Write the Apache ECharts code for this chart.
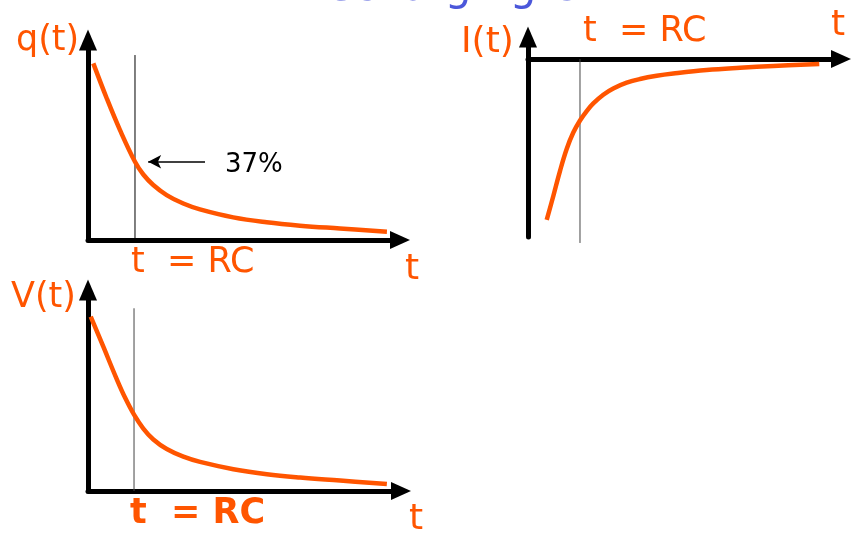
<!DOCTYPE html>
<html>
<head>
<meta charset="utf-8">
<script src="https://cdn.jsdelivr.net/npm/echarts@6/dist/echarts.min.js"></script>
<style>
  html, body { margin: 0; padding: 0; background: #fff; }
  #chart { width: 853px; height: 535px; }
</style>
</head>
<body>
<div id="chart"></div>
<script>
// time in units of RC, values as fraction of the start value
const qT = [0.113, 0.398, 0.681, 1.0, 1.177, 1.389, 1.674, 2.028, 2.383, 3.091, 3.802, 4.511, 5.362, 6.362];
const qVal = [0.998, 0.801, 0.621, 0.442, 0.370, 0.311, 0.254, 0.206, 0.173, 0.128, 0.100, 0.081, 0.065, 0.047];
const iT = [0.360, 0.487, 0.615, 0.744, 0.871, 1.0, 1.129, 1.256, 1.448, 1.640, 1.898, 2.154, 2.475, 2.794, 3.436, 4.077, 4.717, 5.602];
const iVal = [-1.0, -0.851, -0.696, -0.559, -0.457, -0.382, -0.323, -0.276, -0.222, -0.183, -0.147, -0.124, -0.104, -0.090, -0.068, -0.054, -0.043, -0.031];
const vT = [0.059, 0.333, 0.624, 0.804, 1.0, 1.202, 1.42, 1.711, 2.072, 2.435, 3.159, 3.885, 4.609, 5.478, 6.493];
const vVal = [1.002, 0.829, 0.643, 0.537, 0.439, 0.359, 0.296, 0.241, 0.197, 0.167, 0.125, 0.096, 0.077, 0.060, 0.040];

// t = RC marker lines and the 37% pointer
const rcQ = [[1, 0], [1, 1.045]];
const rcI = [[1, 0], [1, -1.143]];
const rcV = [[1, 0], [1, 1.05]];
const pointer37 = [[2.49, 0.442], [1.28, 0.442]];

const orange = "#ff5500";
const font = "DejaVu Sans";

const zip = (xs, ys) => xs.map((x, i) => [x, ys[i]]);

function axisX(gridIndex, max) {
  return {
    type: "value", gridIndex: gridIndex, min: 0, max: max,
    axisLine: { show: true, symbol: ["none", "triangle"], symbolSize: [18, 20],
      lineStyle: { color: "#000", width: 5 } },
    axisTick: { show: false }, axisLabel: { show: false }, splitLine: { show: false }
  };
}
function axisY(gridIndex, min, max) {
  return {
    type: "value", gridIndex: gridIndex, min: min, max: max,
    axisLine: { show: true, symbol: ["none", "triangle"], symbolSize: [18, 21],
      lineStyle: { color: "#000", width: 5 } },
    axisTick: { show: false }, axisLabel: { show: false }, splitLine: { show: false }
  };
}
function curve(idx, data) {
  return {
    type: "line", xAxisIndex: idx, yAxisIndex: idx, data: data,
    smooth: 0.4, showSymbol: false, z: 3,
    lineStyle: { color: orange, width: 4.5 }
  };
}
function rcLine(idx, data, color) {
  return {
    type: "line", xAxisIndex: idx, yAxisIndex: idx, data: data, clip: false,
    showSymbol: false, z: 2, lineStyle: { color: color, width: 1 }
  };
}
// text placed by its baseline
function label(text, x, baseline, size, color, weight) {
  return {
    type: "text", x: x, y: baseline - size * 0.36 + 3, z: 10,
    style: {
      text: text, fill: color || orange,
      font: (weight || "normal") + " " + size + "px '" + font + "'",
      textAlign: "left", textVerticalAlign: "middle", verticalAlign: "middle"
    }
  };
}

const chart = echarts.init(document.getElementById("chart"));
chart.setOption({
  animation: false,
  grid: [
    { left: 88, top: 40, width: 312, height: 200 },
    { left: 528, top: 37, width: 313, height: 200 },
    { left: 88, top: 290, width: 313, height: 201 }
  ],
  xAxis: [axisX(0, 6.64), axisX(1, 6.02), axisX(2, 6.8)],
  yAxis: [axisY(0, 0, 1.13), axisY(1, -1.106, 0.137), axisY(2, 0, 1.155)],
  series: [
    Object.assign(curve(0, zip(qT, qVal)), {
      markLine: {
        silent: true, symbol: ["none", "arrow"], symbolSize: [10, 13],
        label: { show: false },
        lineStyle: { color: "#000", width: 1.5, type: "solid" },
        data: [[{ coord: pointer37[0] }, { coord: pointer37[1] }]]
      }
    }),
    rcLine(0, rcQ, "#000"),
    curve(1, zip(iT, iVal)),
    rcLine(1, rcI, "#444"),
    curve(2, zip(vT, vVal)),
    rcLine(2, rcV, "#444")
  ],
  graphic: [
    label("Discharging C", 287, 1, 42, "#4b57da"),
    label("q(t)", 16, 51, 35),
    label("t  = RC", 131, 273, 35),
    label("t", 405, 280, 36),
    label("37%", 225, 172, 26, "#000"),
    label("I(t)", 461, 53, 36),
    label("t  = RC", 583, 42, 35),
    label("t", 831, 36, 36),
    label("V(t)", 11, 308, 35),
    label("t  = RC", 130, 524, 35, orange, "bold"),
    label("t", 409, 530, 36)
  ]
});
</script>
</body>
</html>
